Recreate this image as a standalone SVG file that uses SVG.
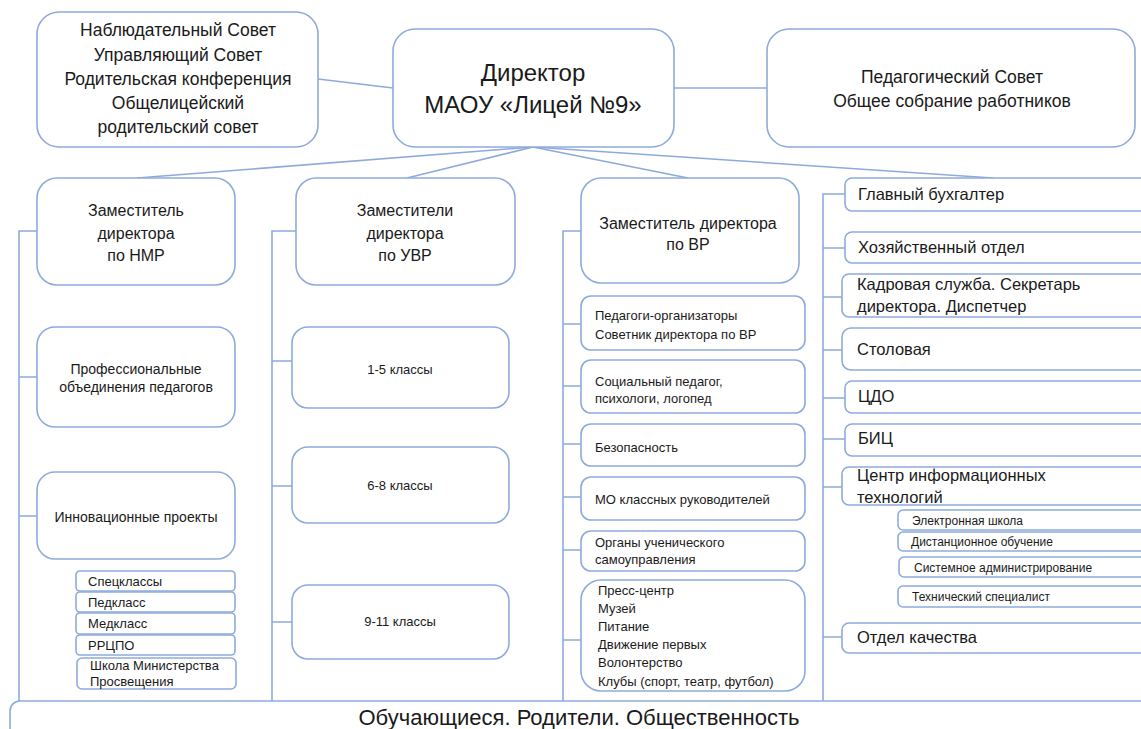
<svg xmlns="http://www.w3.org/2000/svg" width="1141" height="729" viewBox="0 0 1141 729">
<style>
.b{fill:#fff;stroke:#8eaadb;stroke-width:1.6}
.c{fill:none;stroke:#8eaadb;stroke-width:1.6}
text{font-family:"Liberation Sans",Arial,sans-serif;fill:#1a1a1a}
.m{text-anchor:middle}
.t17{font-size:17.5px}
.t24{font-size:24px}
.t16{font-size:16px}
.t12{font-size:12px}
.t13{font-size:13px}
.t14{font-size:14px}
.t15{font-size:16.5px}
</style>
<rect width="1141" height="729" fill="#fff"/>
<g id="connectors">
<line class="c" x1="318" y1="79" x2="393" y2="88"/>
<line class="c" x1="674" y1="88" x2="767" y2="88"/>
<line class="c" x1="533" y1="147" x2="137" y2="178"/>
<line class="c" x1="533" y1="147" x2="407" y2="178"/>
<line class="c" x1="533" y1="147" x2="688" y2="178"/>
<line class="c" x1="533" y1="147" x2="993" y2="178"/>
<path class="c" d="M37 231H19V701M19 377H37M19 516H37"/>
<path class="c" d="M296 231H272V701M272 361H292M272 486H292M272 622H292"/>
<path class="c" d="M581 231H563V701M563 324H581M563 386H581M563 444H581M563 497H581M563 550H581M563 640H581"/>
<path class="c" d="M845 194H823V701M823 248H845M823 297H842M823 350H842M823 398H845M823 439H845M823 487H842M823 637H842"/>
</g>
<g id="n-councils"><rect class="b" x="37" y="12" width="281" height="135" rx="22"/>
<text class="t17 m" x="178" y="36">Наблюдательный  Совет</text>
<text class="t17 m" x="178" y="61">Управляющий  Совет</text>
<text class="t17 m" x="178" y="85">Родительская  конференция</text>
<text class="t17 m" x="178" y="109">Общелицейский</text>
<text class="t17 m" x="178" y="133">родительский  совет</text></g>
<g id="n-director"><rect class="b" x="393" y="29" width="281" height="118" rx="22"/>
<text class="t24 m" x="533" y="81">Директор</text>
<text class="t24 m" x="533" y="113">МАОУ «Лицей №9»</text></g>
<g id="n-pedsovet"><rect class="b" x="767" y="29" width="368" height="118" rx="22"/>
<text class="t17 m" x="952" y="83">Педагогический  Совет</text>
<text class="t17 m" x="952" y="107">Общее  собрание  работников</text></g>
<g id="n-nmr"><rect class="b" x="37" y="178" width="198" height="107" rx="20"/>
<text class="t16 m" x="136" y="216">Заместитель</text>
<text class="t16 m" x="136" y="239">директора</text>
<text class="t16 m" x="136" y="261">по НМР</text></g>
<g id="n-uvr"><rect class="b" x="296" y="178" width="219" height="107" rx="20"/>
<text class="t16 m" x="405" y="216">Заместители</text>
<text class="t16 m" x="405" y="239">директора</text>
<text class="t16 m" x="405" y="261">по УВР</text></g>
<g id="n-vr"><rect class="b" x="581" y="178" width="218" height="105" rx="20"/>
<text class="t16 m" x="688" y="229">Заместитель директора</text>
<text class="t16 m" x="688" y="250">по ВР</text></g>
<g id="n-prof"><rect class="b" x="37" y="327" width="198" height="100" rx="18"/>
<text class="t14 m" x="136" y="374">Профессиональные</text>
<text class="t14 m" x="136" y="392">объединения педагогов</text></g>
<g id="n-innov"><rect class="b" x="37" y="472" width="198" height="87" rx="18"/>
<text class="t14 m" x="136" y="522">Инновационные проекты</text></g>
<g id="n-spec"><rect class="b" x="76" y="571" width="159" height="20" rx="4"/><text class="t13" x="88" y="586">Спецклассы</text></g>
<g id="n-ped"><rect class="b" x="76" y="592" width="159" height="20" rx="4"/><text class="t13" x="88" y="607">Педкласс</text></g>
<g id="n-med"><rect class="b" x="76" y="613" width="159" height="21" rx="4"/><text class="t13" x="88" y="628">Медкласс</text></g>
<g id="n-rrcpo"><rect class="b" x="76" y="635" width="159" height="20" rx="4"/><text class="t13" x="88" y="650">РРЦПО</text></g>
<g id="n-school"><rect class="b" x="77" y="658" width="159" height="31" rx="5"/>
<text class="t13" x="90" y="670">Школа Министерства</text><text class="t13" x="90" y="686">Просвещения</text></g>
<g id="n-15"><rect class="b" x="292" y="327" width="217" height="81" rx="16"/><text class="t13 m" x="400" y="374">1-5 классы</text></g>
<g id="n-68"><rect class="b" x="292" y="447" width="217" height="76" rx="16"/><text class="t13 m" x="400" y="490">6-8 классы</text></g>
<g id="n-911"><rect class="b" x="292" y="585" width="217" height="74" rx="16"/><text class="t13 m" x="400" y="626">9-11 классы</text></g>
<g id="n-pedorg"><rect class="b" x="581" y="296" width="224" height="54" rx="10"/>
<text class="t13" x="595" y="320">Педагоги-организаторы</text><text class="t13" x="595" y="339">Советник директора по ВР</text></g>
<g id="n-soc"><rect class="b" x="581" y="360" width="224" height="53" rx="10"/>
<text class="t13" x="595" y="386">Социальный педагог,</text><text class="t13" x="595" y="403">психологи, логопед</text></g>
<g id="n-bez"><rect class="b" x="581" y="424" width="224" height="42" rx="10"/><text class="t13" x="595" y="452">Безопасность</text></g>
<g id="n-mo"><rect class="b" x="581" y="477" width="224" height="43" rx="10"/><text class="t13" x="595" y="504">МО классных руководителей</text></g>
<g id="n-org"><rect class="b" x="581" y="531" width="224" height="40" rx="10"/>
<text class="t13" x="595" y="547">Органы ученического</text><text class="t13" x="595" y="564">самоуправления</text></g>
<g id="n-press"><rect class="b" x="581" y="580" width="224" height="111" rx="20"/>
<text class="t13" x="598" y="595">Пресс-центр</text><text class="t13" x="598" y="613">Музей</text><text class="t13" x="598" y="631">Питание</text><text class="t13" x="598" y="649">Движение первых</text><text class="t13" x="598" y="667">Волонтерство</text><text class="t13" x="598" y="686">Клубы (спорт, театр, футбол)</text></g>
<g id="n-buh"><rect class="b" x="845" y="178" width="320" height="33" rx="7"/><text class="t15" x="858" y="200">Главный бухгалтер</text></g>
<g id="n-hoz"><rect class="b" x="845" y="232" width="320" height="31" rx="7"/><text class="t15" x="858" y="253">Хозяйственный отдел</text></g>
<g id="n-kadr"><rect class="b" x="842" y="274" width="320" height="43" rx="7"/>
<text class="t15" x="857" y="290">Кадровая служба. Секретарь</text><text class="t15" x="857" y="312">директора. Диспетчер</text></g>
<g id="n-stol"><rect class="b" x="842" y="328" width="320" height="42" rx="9"/><text class="t15" x="857" y="355">Столовая</text></g>
<g id="n-cdo"><rect class="b" x="845" y="381" width="320" height="32" rx="7"/><text class="t15" x="858" y="402">ЦДО</text></g>
<g id="n-bic"><rect class="b" x="845" y="424" width="320" height="32" rx="7"/><text class="t15" x="858" y="444">БИЦ</text></g>
<g id="n-cit"><rect class="b" x="842" y="467" width="320" height="38" rx="7"/>
<text class="t15" x="857" y="481">Центр информационных</text><text class="t15" x="857" y="503">технологий</text></g>
<g id="n-el"><rect class="b" x="898" y="510" width="260" height="20" rx="5"/><text class="t12" x="912" y="525">Электронная школа</text></g>
<g id="n-dist"><rect class="b" x="898" y="532" width="260" height="19" rx="5"/><text class="t12" x="911" y="546">Дистанционное обучение</text></g>
<g id="n-sys"><rect class="b" x="899" y="557" width="260" height="20" rx="5"/><text class="t12" x="914" y="572">Системное администрирование</text></g>
<g id="n-tech"><rect class="b" x="898" y="586" width="260" height="21" rx="5"/><text class="t12" x="912" y="601">Технический специалист</text></g>
<g id="n-qual"><rect class="b" x="842" y="623" width="320" height="30" rx="7"/><text class="t15" x="857" y="643">Отдел качества</text></g>
<g id="n-bottom"><rect class="b" x="10" y="701" width="1160" height="60" rx="10"/>
<text class="m" style="font-size:22px" x="579" y="725">Обучающиеся. Родители. Общественность</text></g>
</svg>
